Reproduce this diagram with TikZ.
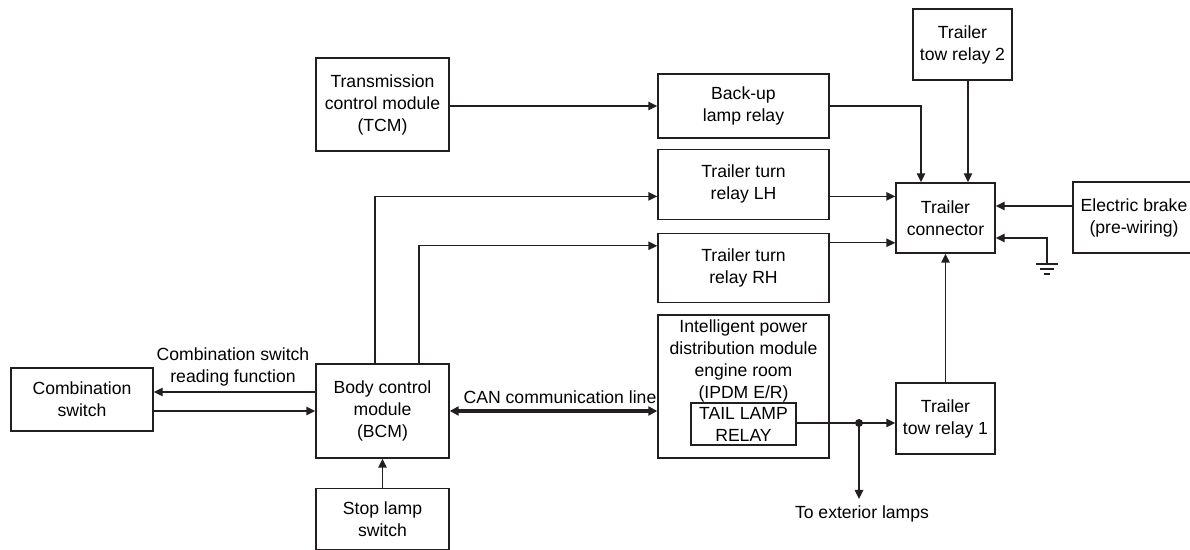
\documentclass[tikz,border=0pt]{standalone}
\usepackage{fontspec}
\setmainfont{Liberation Sans}
\usepackage{xcolor}
\usetikzlibrary{positioning,arrows.meta}
\definecolor{wire}{RGB}{35,31,32}

\begin{document}
\begin{tikzpicture}[
    x=0.5pt, y=-0.5pt,
    box/.style={rectangle, draw=wire, line width=0.7pt, inner sep=1pt,
                font=\fontsize{8.8pt}{11pt}\selectfont, align=center},
    lbl/.style={inner sep=1pt, font=\fontsize{8.8pt}{11pt}\selectfont, align=center},
    arr/.style={-{Triangle[length=4.5pt, width=4.2pt]}, line width=0.7pt, color=wire},
    canarr/.style={{Triangle[length=4.5pt, width=4.5pt]}-{Triangle[length=4.5pt, width=4.5pt]}, line width=1.6pt, color=wire}
  ]
    \useasboundingbox (0,0) rectangle (1190,550);

    % left side
    \node[box, minimum width=71pt, minimum height=31.5pt] (combsw) at (82,399.5) {Combination\\switch};
    \node[box, minimum width=66.5pt, minimum height=47pt] (bcm) at (382.5,411) {Body control\\module\\(BCM)};
    \node[box, minimum width=66.5pt, minimum height=30.5pt] (stopsw) [below=14.5pt of bcm] {Stop lamp\\switch};
    \node[box, minimum width=66.5pt, minimum height=46.5pt] (tcm) at (382.5,104.5) {Transmission\\control module\\(TCM)};

    % relays in the middle
    \node[box, minimum width=85.5pt, minimum height=32pt] (backup) at (743.5,106) {Back-up\\lamp relay};
    \node[box, minimum width=85.5pt, minimum height=35pt] (turnlh) [below=5pt of backup] {Trailer turn\\relay LH};
    \node[box, minimum width=85.5pt, minimum height=34.5pt] (turnrh) [below=6.5pt of turnlh] {Trailer turn\\relay RH};
    \node[box, minimum width=85.5pt, minimum height=71.5pt] (ipdm) [below=5.5pt of turnrh] {};
    \node[lbl, anchor=north, inner sep=2.5pt] (ipdmtxt) at (ipdm.north) {Intelligent power\\distribution module\\engine room\\(IPDM E/R)};
    \node[box, minimum width=52.5pt, minimum height=21pt, inner sep=0pt] (tail) at (743.5,424) {TAIL LAMP\\RELAY};

    % right side
    \node[box, minimum width=49.5pt, minimum height=35pt] (conn) at (945.5,218) {Trailer\\connector};
    \node[box, minimum width=49.5pt, minimum height=35.5pt] (tow2) at (962.5,44.5) {Trailer\\tow relay 2};
    \node[box, minimum width=49.5pt, minimum height=35.5pt] (tow1) at (945.5,418.5) {Trailer\\tow relay 1};
    \node[box, minimum width=61pt, minimum height=35.5pt] (brake) at (1134,217.5) {Electric brake\\(pre-wiring)};

    % labels
    \node[lbl] (cslbl) at (233,367) {Combination switch\\reading function};
    \node[lbl] (canlbl) at (560,397) {CAN communication line};
    \node[lbl, anchor=north] (extlbl) at (862,503) {To exterior lamps};
    \coordinate (junc) at (859,423);
    \coordinate (gnd) at (1047,264);

    \draw[arr] ([yshift=9.5pt]bcm.west) -- ([yshift=9.5pt]bcm.west -| combsw.east);
    \draw[arr] (combsw.east |- bcm.west) -- (bcm.west);
    \draw[arr] (stopsw) -- (bcm);
    \draw[arr] (tcm.east |- backup.west) -- (backup.west);
    \draw[arr] ([xshift=-3.75pt]bcm.north) |- ([yshift=-6pt]turnlh.west);
    \draw[arr] ([xshift=18.25pt]bcm.north) |- ([yshift=11.25pt]turnrh.west);
    \draw[canarr] (bcm.east) -- (bcm.east -| ipdm.west);

    \draw[arr] (backup.east) -| ([xshift=-12.25pt]conn.north);
    \draw[arr] ([xshift=2.75pt]tow2.south) -- ([xshift=2.75pt]tow2.south |- conn.north);
    \draw[arr] ([yshift=-6pt]turnlh.east) -- ([yshift=-6pt]turnlh.east -| conn.west);
    \draw[arr] ([yshift=12.75pt]turnrh.east) -- ([yshift=12.75pt]turnrh.east -| conn.west);
    \draw[arr] ([yshift=5.75pt]brake.west) -- ([yshift=5.75pt]brake.west -| conn.east);
    \draw[arr] (gnd) |- ([yshift=-10pt]conn.east);
    \draw[arr] (tow1) -- (conn);

    \draw[arr] (tail.east |- junc) -- (junc -| tow1.west);
    \draw[arr] (junc) -- ([yshift=2pt]junc |- extlbl.north);
    \fill[wire] (junc) circle (2pt);

    % ground
    \draw[line width=0.7pt, wire] ([xshift=-5.5pt]gnd) -- ([xshift=5.5pt]gnd);
    \draw[line width=0.7pt, wire] ([xshift=-3.5pt, yshift=-2.5pt]gnd) -- ([xshift=3.5pt, yshift=-2.5pt]gnd);
    \draw[line width=0.7pt, wire] ([xshift=-1.5pt, yshift=-5pt]gnd) -- ([xshift=1.5pt, yshift=-5pt]gnd);
  \end{tikzpicture}
\end{document}
